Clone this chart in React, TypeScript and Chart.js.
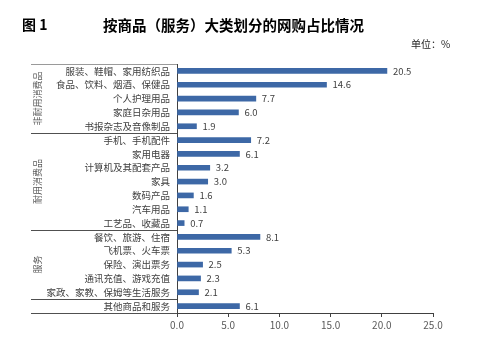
import React, { useEffect, useRef } from "react";
import { Chart, registerables } from "chart.js";

Chart.register(...registerables);

const categories = [
  "服装、鞋帽、家用纺织品",
  "食品、饮料、烟酒、保健品",
  "个人护理用品",
  "家庭日杂用品",
  "书报杂志及音像制品",
  "手机、手机配件",
  "家用电器",
  "计算机及其配套产品",
  "家具",
  "数码产品",
  "汽车用品",
  "工艺品、收藏品",
  "餐饮、旅游、住宿",
  "飞机票、火车票",
  "保险、演出票务",
  "通讯充值、游戏充值",
  "家政、家教、保姆等生活服务",
  "其他商品和服务",
];

const values = [20.5, 14.6, 7.7, 6.0, 1.9, 7.2, 6.1, 3.2, 3.0, 1.6, 1.1, 0.7, 8.1, 5.3, 2.5, 2.3, 2.1, 6.1];

// groups: label, first index, last index (label empty = no label)
const groupLabels = ["非耐用消费品", "耐用消费品", "服务", ""];
const groupStarts = [0, 5, 12, 17];
const groupEnds = [4, 11, 16, 17];

const xTicks = [0, 5, 10, 15, 20, 25];

const titleLeft = "图 1";
const titleMain = "按商品（服务）大类划分的网购占比情况";
const unitText = "单位：%";

const FONT = "'Noto Sans CJK SC', 'Noto Sans', sans-serif";

const overlayPlugin = {
  id: "overlay",
  afterDraw(chart: any) {
    const ctx = chart.ctx;
    const y = chart.scales.y;
    const area = chart.chartArea;
    ctx.save();
    // titles
    ctx.fillStyle = "#000";
    ctx.textBaseline = "middle";
    ctx.textAlign = "left";
    ctx.font = `bold 14px ${FONT}`;
    ctx.fillText(titleLeft, 22, 25);
    ctx.font = `bold 14.5px ${FONT}`;
    ctx.fillText(titleMain, 103, 25);
    ctx.font = `10px ${FONT}`;
    ctx.fillStyle = "#222";
    ctx.fillText(unitText, 411, 44);

    // group separators
    const x0 = 31;
    const half = (y.getPixelForValue(1) - y.getPixelForValue(0)) / 2;
    ctx.lineWidth = 1;
    ctx.strokeStyle = "#9a9a9a";
    const topY = Math.round(y.getPixelForValue(0) - half) + 0.5;
    ctx.beginPath();
    ctx.moveTo(x0, topY);
    ctx.lineTo(area.left, topY);
    ctx.stroke();
    ctx.strokeStyle = "#505050";
    for (let g = 0; g < groupStarts.length; g++) {
      const yy = Math.round(y.getPixelForValue(groupEnds[g]) + half) + 0.5;
      ctx.beginPath();
      ctx.moveTo(x0, yy);
      ctx.lineTo(area.left, yy);
      ctx.stroke();
    }
    // group labels (rotated)
    ctx.fillStyle = "#595959";
    ctx.font = `9px ${FONT}`;
    ctx.textAlign = "center";
    ctx.textBaseline = "middle";
    for (let g = 0; g < groupLabels.length; g++) {
      if (!groupLabels[g]) continue;
      const cy = (y.getPixelForValue(groupStarts[g]) + y.getPixelForValue(groupEnds[g])) / 2;
      ctx.save();
      ctx.translate(38, cy);
      ctx.rotate(-Math.PI / 2);
      ctx.fillText(groupLabels[g], 0, 0);
      ctx.restore();
    }

    // value labels
    const meta = chart.getDatasetMeta(0);
    ctx.fillStyle = "#404040";
    ctx.font = `9.5px ${FONT}`;
    ctx.textAlign = "left";
    ctx.textBaseline = "middle";
    meta.data.forEach((bar: any, i: number) => {
      ctx.fillText(values[i].toFixed(1), bar.x + 6, bar.y);
    });
    ctx.restore();
  },
};

export default function App() {
  const ref = useRef<HTMLCanvasElement>(null);
  useEffect(() => {
    if (!ref.current) return;
    const chart = new Chart(ref.current, {
      type: "bar",
      data: {
        labels: categories,
        datasets: [
          {
            data: values,
            backgroundColor: "#3d68a6",
            barThickness: 5,
          },
        ],
      },
      options: {
        indexAxis: "y",
        animation: false,
        responsive: false,
        maintainAspectRatio: false,
        layout: { padding: { left: 0, right: 67, top: 64, bottom: 0 } },
        plugins: {
          legend: { display: false },
          tooltip: { enabled: false },
          title: { display: false },
        },
        scales: {
          x: {
            min: 0,
            max: 25,
            afterBuildTicks: (s: any) => {
              s.ticks = xTicks.map((v) => ({ value: v }));
            },
            afterFit: (s: any) => {
              s.height = 351 - 313;
            },
            grid: { drawOnChartArea: false, drawTicks: true, tickLength: 4, color: "#404040" },
            border: { display: true, color: "#404040", width: 1 },
            ticks: {
              padding: 2,
              color: "#595959",
              font: { family: FONT, size: 10 },
              callback: (v: any) => Number(v).toFixed(1),
            },
          },
          y: {
            afterFit: (s: any) => {
              s.width = 177;
            },
            grid: { display: false, drawTicks: false },
            border: { display: true, color: "#404040", width: 1 },
            ticks: {
              padding: 7,
              color: "#404040",
              autoSkip: false,
              font: { family: FONT, size: 9.5 },
            },
          },
        },
      },
      plugins: [overlayPlugin],
    });
    return () => chart.destroy();
  }, []);
  return (
    <div style={{ position: "fixed", left: 0, top: 0, width: 500, height: 351, background: "#fff" }}>
      <canvas ref={ref} width={500} height={351} style={{ width: 500, height: 351 }} />
    </div>
  );
}
